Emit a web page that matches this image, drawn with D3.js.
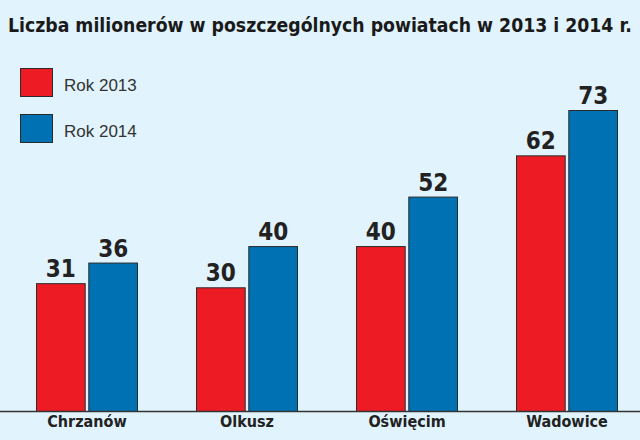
<!DOCTYPE html>
<html>
<head>
<meta charset="utf-8">
<script src="https://cdn.jsdelivr.net/npm/d3@7"></script>
<style>
  html, body { margin: 0; padding: 0; background: #e1f3fc; }
  svg { display: block; }
</style>
</head>
<body>
<script>
const title = "Liczba milionerów w poszczególnych powiatach w 2013 i 2014 r.";
const categories = ["Chrzanów", "Olkusz", "Oświęcim", "Wadowice"];
const seriesNames = ["Rok 2013", "Rok 2014"];
const values2013 = [31, 30, 40, 62];
const values2014 = [36, 40, 52, 73];
const colors = ["#ed1c24", "#0071b3"];

const W = 640, H = 440;
const condensed = "'DejaVu Sans Condensed', 'Liberation Sans Narrow', 'Roboto', sans-serif";

const svg = d3.select("body").append("svg").attr("width", W).attr("height", H);
svg.append("rect").attr("width", W).attr("height", H).attr("fill", "#e1f3fc");

const baseY = 411;
const x0 = d3.scaleBand().domain(categories).range([36, 618]).paddingInner(0.3625).paddingOuter(0);
const x1 = d3.scaleBand().domain(seriesNames).range([0, x0.bandwidth()]).paddingInner(0.05);
const y = d3.scaleLinear().domain([0, 73]).range([baseY, 110]);

const data = categories.map((c, i) => ({ cat: c, vals: [values2013[i], values2014[i]] }));

const g = svg.selectAll("g.grp").data(data).join("g")
  .attr("class", "grp")
  .attr("transform", d => `translate(${x0(d.cat)},0)`);

g.selectAll("rect").data(d => d.vals.map((v, j) => ({ v, j })))
  .join("rect")
  .attr("x", d => x1(seriesNames[d.j]) + 0.5)
  .attr("y", d => y(d.v) + 0.5)
  .attr("width", x1.bandwidth() - 1)
  .attr("height", d => baseY - y(d.v))
  .attr("fill", d => colors[d.j])
  .attr("stroke", "#2a2a2a")
  .attr("stroke-width", 1);

g.selectAll("text.val").data(d => d.vals.map((v, j) => ({ v, j })))
  .join("text")
  .attr("class", "val")
  .attr("x", d => x1(seriesNames[d.j]) + x1.bandwidth() / 2)
  .attr("y", d => y(d.v) - 6)
  .attr("text-anchor", "middle")
  .attr("font-family", condensed)
  .attr("font-weight", "bold")
  .attr("font-size", 24)
  .attr("fill", "#222")
  .text(d => d.v);

// baseline axis
const xAxis = d3.axisBottom(x0).tickSize(0).tickPadding(5);
const ax = svg.append("g").attr("transform", `translate(0,${baseY})`).call(xAxis);
ax.select(".domain").remove();
ax.selectAll("text")
  .attr("font-family", condensed)
  .attr("font-weight", "bold")
  .attr("font-size", 16)
  .attr("fill", "#222");
svg.append("line").attr("x1", 0).attr("x2", W).attr("y1", baseY + 0.5).attr("y2", baseY + 0.5)
  .attr("stroke", "#333").attr("stroke-width", 1.5);

// title
const t = svg.append("text")
  .attr("x", 8).attr("y", 32)
  .attr("font-family", condensed)
  .attr("font-weight", "bold")
  .attr("font-size", 20)
  .attr("fill", "#1a1a1a")
  .text(title);
const tl = t.node().getComputedTextLength();
t.attr("font-size", Math.min(21, 20 * 624 / tl));

// legend
const leg = svg.selectAll("g.leg").data(seriesNames).join("g")
  .attr("class", "leg")
  .attr("transform", (d, i) => `translate(20,${68 + i * 46})`);
leg.append("rect").attr("x", 0.5).attr("y", 0.5).attr("width", 32).attr("height", 28)
  .attr("fill", (d, i) => colors[i]).attr("stroke", "#2a2a2a");
leg.append("text").attr("x", 44).attr("y", 23)
  .attr("font-family", "'Liberation Sans', Arial, sans-serif")
  .attr("font-size", 17)
  .attr("fill", "#333")
  .text(d => d);
</script>
</body>
</html>
